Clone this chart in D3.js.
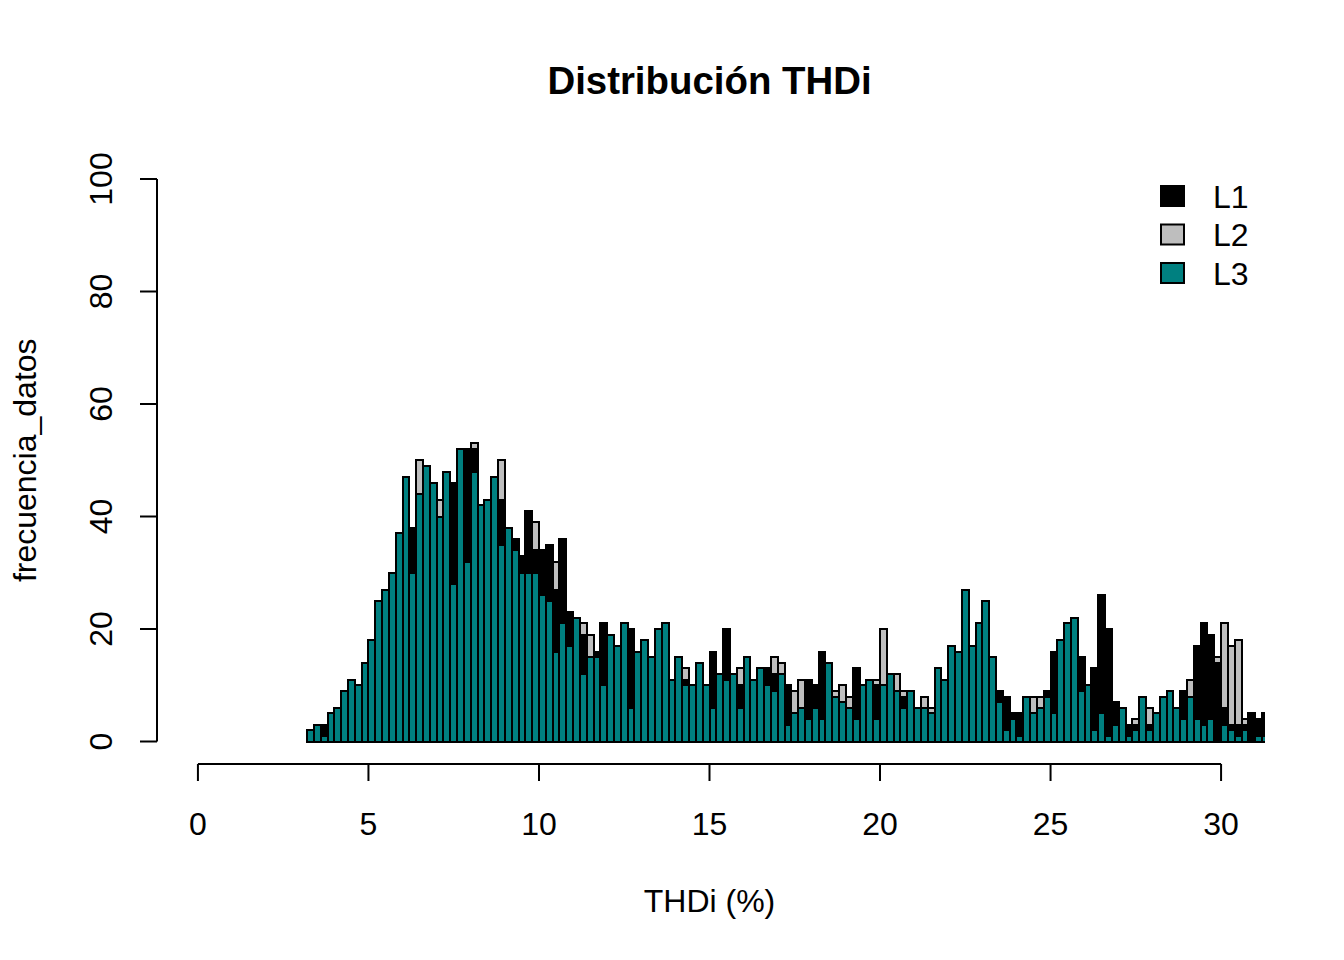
<!DOCTYPE html>
<html>
<head>
<meta charset="utf-8">
<script src="https://cdn.jsdelivr.net/npm/d3@7"></script>
<style>
  html, body { margin: 0; padding: 0; background: #fff; }
  svg { display: block; font-family: "Liberation Sans", Arial, sans-serif; }
</style>
</head>
<body>
<div id="chart"></div>
<script>
// histogram breaks: bins of 0.2 starting at 3.2
const firstBreak = 3.2;
const binWidth = 0.2;

// counts per bin (hidden parts estimated)
const l1 = [2,3,3,5,6,9,11,10,14,18, 25,27,30,37,47,38,43,49,46,39,
  48,46,52,52,52,42,43,47,43,38, 36,33,41,34,34,35,27,36,23,22,
  19,15,16,21,19,17,21,20,16,18, 15,20,21,11,15,11,10,14,10,16,
  12,20,12,10,15,11,13,13,12,12, 10,5,6,11,10,16,14,8,7,6,
  13,10,11,10,10,12,9,8,9,6, 6,5,13,11,17,16,27,17,21,25,
  15,9,8,5,5,8,5,6,9,16, 18,21,22,15,10,13,26,20,7,6,
  3,3,8,3,5,8,9,6,9,8, 17,21,19,14,6,3,3,3,5,4,5];
const l2 = [2,3,2,5,6,9,11,10,14,18, 25,27,30,37,47,35,50,49,46,43,
  48,44,52,50,53,42,43,47,50,38, 35,32,38,39,33,30,32,30,20,22,
  21,19,15,18,19,17,21,18,16,18, 15,20,21,11,15,13,10,14,10,12,
  12,14,12,13,15,11,13,12,15,14, 8,9,11,10,9,12,14,9,10,8,
  10,10,11,11,20,12,12,9,9,6, 8,6,13,11,17,16,27,17,21,25,
  15,8,6,4,3,8,8,8,8,12, 18,21,22,12,10,10,20,15,5,6,
  2,4,8,6,5,8,9,6,7,11, 13,16,14,15,21,17,18,4,3,3,3];
const l3 = [2,3,1,5,6,9,11,10,14,18, 25,27,30,37,47,30,44,49,46,40,
  48,28,52,32,48,42,43,47,35,38, 34,30,30,30,26,25,16,21,17,22,
  12,15,15,10,19,17,21,6,16,18, 15,20,21,11,15,10,10,14,10,6,
  12,11,12,6,15,11,13,10,9,12, 3,5,6,4,6,4,14,8,7,6,
  4,10,11,4,10,12,9,6,9,6, 6,5,13,11,17,16,27,17,21,25,
  15,7,2,4,1,8,5,6,8,5, 18,21,22,9,10,2,5,1,3,6,
  1,2,8,2,5,8,9,6,4,8, 4,3,4,0,3,2,1,2,0,1,1];

const series = [
  { name: "L1", counts: l1, fill: "#000000" },
  { name: "L2", counts: l2, fill: "#BEBEBE" },
  { name: "L3", counts: l3, fill: "#008080" }
];
// R drew L2 first, then L1, then L3 on top
const drawOrder = ["L2", "L1", "L3"];

const xTicks = [0, 5, 10, 15, 20, 25, 30];
const yTicks = [0, 20, 40, 60, 80, 100];

const width = 1344, height = 960;
const plot = { left: 157, right: 1262, top: 156.5, bottom: 764 };
const fontSize = 32;

const x = d3.scaleLinear().domain([-1.2, 31.2]).range([plot.left, plot.right]);
const y = d3.scaleLinear().domain([-4, 104]).range([plot.bottom, plot.top]);

const svg = d3.select("#chart").append("svg")
  .attr("width", width)
  .attr("height", height);

svg.append("clipPath").attr("id", "plot-clip")
  .append("rect")
  .attr("x", plot.left)
  .attr("y", plot.top)
  .attr("width", plot.right - plot.left + 3)
  .attr("height", plot.bottom - plot.top);

const bars = svg.append("g").attr("clip-path", "url(#plot-clip)");

drawOrder.forEach(name => {
  const s = series.find(d => d.name === name);
  bars.append("g")
    .selectAll("rect")
    .data(s.counts)
    .join("rect")
    .attr("x", (d, i) => x(firstBreak + i * binWidth))
    .attr("width", x(binWidth) - x(0))
    .attr("y", d => y(d))
    .attr("height", d => y(0) - y(d))
    .attr("fill", s.fill)
    .attr("stroke", "#000")
    .attr("stroke-width", 2)
    .attr("shape-rendering", "crispEdges");
});

// x axis (R style: line only spans tick range)
const xAxis = svg.append("g").attr("stroke", "#000").attr("stroke-width", 2);
xAxis.append("line")
  .attr("x1", x(xTicks[0])).attr("x2", x(xTicks[xTicks.length - 1]))
  .attr("y1", plot.bottom).attr("y2", plot.bottom);
xAxis.selectAll("line.tick")
  .data(xTicks)
  .join("line")
  .attr("class", "tick")
  .attr("x1", d => x(d)).attr("x2", d => x(d))
  .attr("y1", plot.bottom).attr("y2", plot.bottom + 17);
svg.append("g")
  .selectAll("text")
  .data(xTicks)
  .join("text")
  .attr("x", d => x(d))
  .attr("y", 834.5)
  .attr("text-anchor", "middle")
  .attr("font-size", fontSize)
  .text(d => d);

// y axis
const yAxis = svg.append("g").attr("stroke", "#000").attr("stroke-width", 2);
yAxis.append("line")
  .attr("x1", plot.left).attr("x2", plot.left)
  .attr("y1", y(yTicks[0])).attr("y2", y(yTicks[yTicks.length - 1]));
yAxis.selectAll("line.tick")
  .data(yTicks)
  .join("line")
  .attr("class", "tick")
  .attr("x1", plot.left).attr("x2", plot.left - 17)
  .attr("y1", d => y(d)).attr("y2", d => y(d));
svg.append("g")
  .selectAll("text")
  .data(yTicks)
  .join("text")
  .attr("transform", d => `translate(111.5,${y(d)}) rotate(-90)`)
  .attr("text-anchor", "middle")
  .attr("font-size", fontSize)
  .text(d => d);

// titles
svg.append("text")
  .attr("x", (plot.left + plot.right) / 2)
  .attr("y", 93.5)
  .attr("text-anchor", "middle")
  .attr("font-size", 38.4)
  .attr("font-weight", "bold")
  .text("Distribución THDi");

svg.append("text")
  .attr("x", (plot.left + plot.right) / 2)
  .attr("y", 912)
  .attr("text-anchor", "middle")
  .attr("font-size", fontSize)
  .text("THDi (%)");

svg.append("text")
  .attr("transform", `translate(36,${(plot.top + plot.bottom) / 2}) rotate(-90)`)
  .attr("text-anchor", "middle")
  .attr("font-size", fontSize)
  .text("frecuencia_datos");

// legend
const legend = svg.append("g").attr("transform", "translate(1161,186)");
const row = legend.selectAll("g")
  .data(series)
  .join("g")
  .attr("transform", (d, i) => `translate(0,${i * 38.5})`);
row.append("rect")
  .attr("width", 23)
  .attr("height", 20)
  .attr("fill", d => d.fill)
  .attr("stroke", "#000")
  .attr("stroke-width", 2);
row.append("text")
  .attr("x", 52)
  .attr("y", 21.5)
  .attr("font-size", fontSize)
  .text(d => d.name);
</script>
</body>
</html>
